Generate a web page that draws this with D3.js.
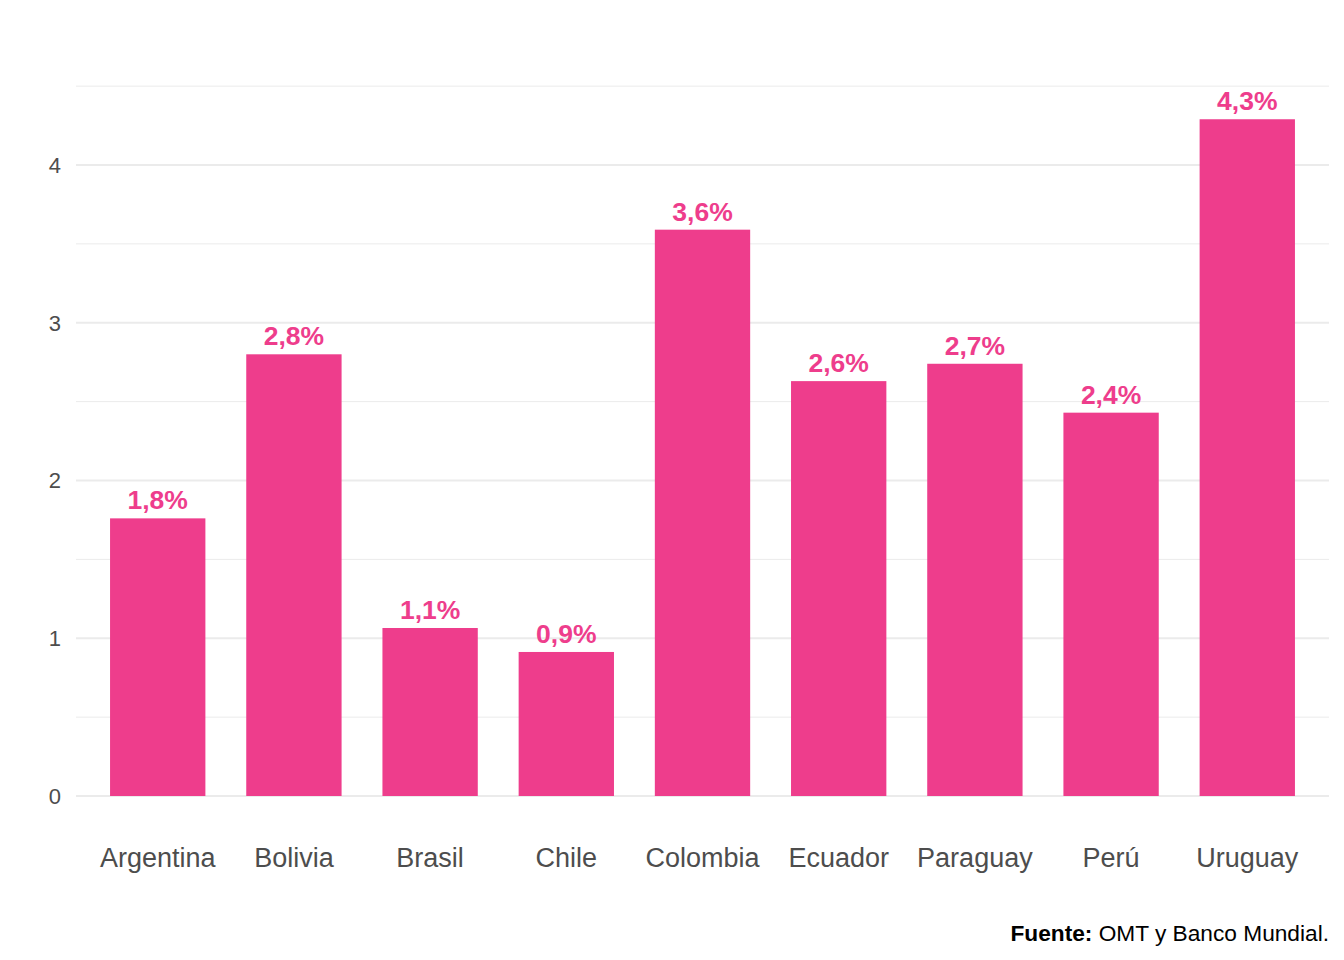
<!DOCTYPE html>
<html>
<head>
<meta charset="utf-8">
<script src="https://cdn.jsdelivr.net/npm/d3@7"></script>
<style>
    body { margin: 0; background: #fff; }
    text { font-family: "Liberation Sans", Arial, sans-serif; }
</style>
</head>
<body>
<div id="chart"></div>
<script>
// data
const countries = ["Argentina", "Bolivia", "Brasil", "Chile", "Colombia", "Ecuador", "Paraguay", "Perú", "Uruguay"];
const values = [1.76, 2.80, 1.065, 0.913, 3.59, 2.63, 2.74, 2.43, 4.29];
const labels = ["1,8%", "2,8%", "1,1%", "0,9%", "3,6%", "2,6%", "2,7%", "2,4%", "4,3%"];
const yTicks = [0, 1, 2, 3, 4];
const yMinor = [0.5, 1.5, 2.5, 3.5, 4.5];

const W = 1344, H = 960;
const margin = {top: 0, right: 15, bottom: 164, left: 76};
const width = W - margin.left - margin.right;
const height = H - margin.top - margin.bottom;

const svg = d3.select("#chart").append("svg")
    .attr("width", W)
    .attr("height", H);

const g = svg.append("g")
    .attr("transform", `translate(${margin.left},${margin.top})`);

// ggplot-like discrete scale: 0.6 unit expansion each side
const step = width / (countries.length - 1 + 1.2);
const x = d3.scalePoint()
    .domain(countries)
    .range([0.6 * step, width - 0.6 * step]);
const barW = 0.7 * step;

const y = d3.scaleLinear()
    .domain([0, 4])
    .range([height, height - 4 * 157.75]);

// grid
g.selectAll(".minor").data(yMinor).enter().append("line")
    .attr("x1", 0).attr("x2", width)
    .attr("y1", d => y(d)).attr("y2", d => y(d))
    .attr("stroke", "#ebebeb").attr("stroke-width", 1);

g.selectAll(".major").data(yTicks).enter().append("line")
    .attr("x1", 0).attr("x2", width)
    .attr("y1", d => y(d)).attr("y2", d => y(d))
    .attr("stroke", "#ebebeb").attr("stroke-width", 2);

// y labels
g.selectAll(".ylab").data(yTicks).enter().append("text")
    .attr("x", -15)
    .attr("y", d => y(d))
    .attr("dy", "0.36em")
    .attr("text-anchor", "end")
    .attr("fill", "#4d4d4d")
    .style("font-size", "22px")
    .text(d => d);

// bars
g.selectAll(".bar").data(countries).enter().append("rect")
    .attr("x", d => x(d) - barW / 2)
    .attr("width", barW)
    .attr("y", (d, i) => y(values[i]))
    .attr("height", (d, i) => y(0) - y(values[i]))
    .attr("fill", "#ee3d8c");

// value labels
g.selectAll(".vlab").data(countries).enter().append("text")
    .attr("x", d => x(d))
    .attr("y", (d, i) => y(values[i]) - 9)
    .attr("text-anchor", "middle")
    .attr("fill", "#ee3d8c")
    .style("font-size", "26.5px")
    .style("font-weight", "bold")
    .text((d, i) => labels[i]);

// x labels
g.selectAll(".xlab").data(countries).enter().append("text")
    .attr("x", d => x(d))
    .attr("y", height + 71)
    .attr("text-anchor", "middle")
    .attr("fill", "#4d4d4d")
    .style("font-size", "27px")
    .text(d => d);

// caption
const cap = svg.append("text")
    .attr("x", W - 15)
    .attr("y", 941)
    .attr("text-anchor", "end")
    .attr("fill", "#000")
    .style("font-size", "22.7px");
cap.append("tspan").style("font-weight", "bold").text("Fuente:");
cap.append("tspan").text(" OMT y Banco Mundial.");
</script>
</body>
</html>
